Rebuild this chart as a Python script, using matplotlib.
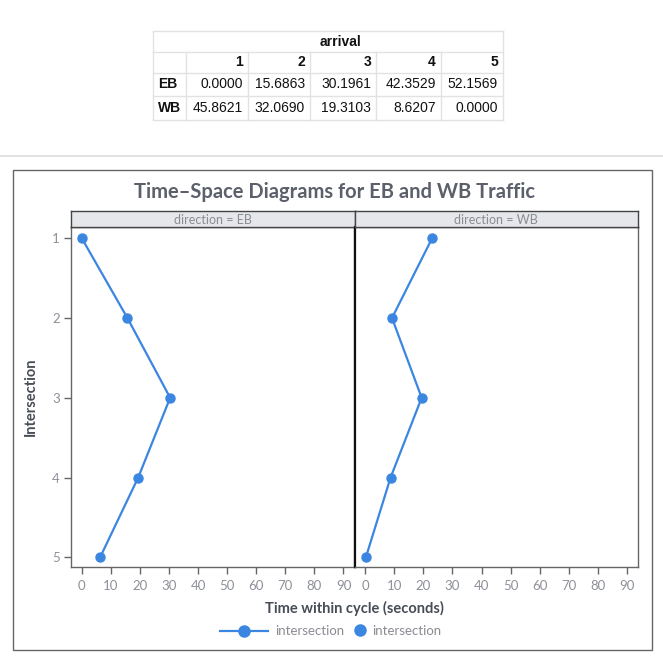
import matplotlib
matplotlib.use("Agg")
import matplotlib.pyplot as plt
from matplotlib.lines import Line2D
from matplotlib.patches import Rectangle

# table data (arrival times)
col_labels = ['1', '2', '3', '4', '5']
row_labels = ['EB', 'WB']
eb_arrival = [0.0000, 15.6863, 30.1961, 42.3529, 52.1569]
wb_arrival = [45.8621, 32.0690, 19.3103, 8.6207, 0.0000]

# time-space diagram data
intersections = [1, 2, 3, 4, 5]
eb_time = [0.0, 15.7, 30.4, 19.4, 6.3]
wb_time = [23.0, 9.2, 19.4, 8.7, 0.2]
directions = ['EB', 'WB']
x_ticks = [0, 10, 20, 30, 40, 50, 60, 70, 80, 90]
legend_labels = ['intersection', 'intersection']

W, H = 663, 664
fig = plt.figure(figsize=(W / 100, H / 100), dpi=100)


def fx(x):
    return x / W


def fy(y):
    return 1 - y / H


def hline(x0, x1, y, color, lw=1.0):
    fig.add_artist(Line2D([fx(x0), fx(x1)], [fy(y), fy(y)], color=color, lw=lw,
                          transform=fig.transFigure))


def vline(x, y0, y1, color, lw=1.0):
    fig.add_artist(Line2D([fx(x), fx(x)], [fy(y0), fy(y1)], color=color, lw=lw,
                          transform=fig.transFigure))


# ---- the pandas-like table on top ----
col_edges = [153, 186, 248, 310, 376, 441, 503]
row_edges = [31, 52, 73, 96, 120]
grid_c = '#e2e2e2'
for y in row_edges:
    hline(col_edges[0], col_edges[-1], y, grid_c)
for i, x in enumerate(col_edges):
    y0 = row_edges[0] if i in (0, len(col_edges) - 1) else row_edges[1]
    vline(x, y0, row_edges[-1], grid_c)

tfont = dict(family='Liberation Sans', fontsize=10, color='#111111')
fig.text(fx((col_edges[1] + col_edges[-1]) / 2 - 4), fy(41.5), 'arrival', ha='center', va='center',
         fontweight='bold', **tfont)
for i, c in enumerate(col_labels):
    fig.text(fx(col_edges[i + 2] - 5), fy(62.5), c, ha='right', va='center', fontweight='bold', **tfont)
for r, (lab, vals) in enumerate(zip(row_labels, [eb_arrival, wb_arrival])):
    yc = (row_edges[r + 2] + row_edges[r + 3]) / 2
    fig.text(fx(col_edges[0] + 5), fy(yc), lab, ha='left', va='center', fontweight='bold', **tfont)
    for i, v in enumerate(vals):
        fig.text(fx(col_edges[i + 2] - 5), fy(yc), f'{v:.4f}', ha='right', va='center', **tfont)

# separator and output frame
hline(0, W, 156, '#dcdcdc', lw=1.2)
fig.add_artist(Rectangle((fx(13), fy(650)), fx(652) - fx(13), fy(170) - fy(650), fill=False,
                         edgecolor='#666666', lw=1.0, transform=fig.transFigure))

# ---- faceted time-space diagram ----
blue = '#3b86e0'
tick_c = '#8e9199'
txt_c = '#474c57'
cfont = 'Lato'

panels = [(71, 354.5), (354.5, 638)]
top, bottom = 227, 567
times = [eb_time, wb_time]
for k, (x0, x1) in enumerate(panels):
    ax = fig.add_axes([fx(x0), fy(bottom), fx(x1) - fx(x0), fy(top) - fy(bottom)])
    ax.plot(times[k], intersections, color=blue, lw=1.6, marker='o', markersize=6.5)
    ax.set_xlim(-3.7, 93.8)
    ax.set_ylim(5.12, 0.86)
    ax.set_xticks(x_ticks)
    ax.set_xticklabels([str(t) for t in x_ticks], fontfamily=cfont, fontsize=9.5, color=tick_c)
    ax.tick_params(axis='x', length=5, width=1, color='#666666', pad=4)
    if k == 0:
        ax.set_yticks(intersections)
        ax.set_yticklabels([str(i) for i in intersections], fontfamily=cfont, fontsize=9.5, color=tick_c)
        ax.tick_params(axis='y', length=5, width=1, color='#666666', pad=3)
        ax.set_ylabel('Intersection', fontfamily=cfont, fontsize=10.5, fontweight='bold', color=txt_c,
                      labelpad=10)
    else:
        ax.set_yticks([])
    for side in ['left', 'right', 'top', 'bottom']:
        ax.spines[side].set_color('#666666')
        ax.spines[side].set_linewidth(1.0)
    ax.spines['top'].set_color('#333333')
    if k == 0:
        ax.spines['right'].set_color('#111111')
        ax.spines['right'].set_linewidth(1.6)
    else:
        ax.spines['left'].set_color('#111111')
        ax.spines['left'].set_linewidth(1.6)

    # facet strip
    sx = fig.add_axes([fx(x0), fy(top), fx(x1) - fx(x0), fy(211) - fy(top)])
    sx.set_facecolor('#e6e7eb')
    sx.set_xticks([])
    sx.set_yticks([])
    for side in sx.spines:
        sx.spines[side].set_color('#444444')
        sx.spines[side].set_linewidth(1.0)
    sx.text(0.5, 0.45, f'direction = {directions[k]}', transform=sx.transAxes, ha='center', va='center',
            fontfamily=cfont, fontsize=9, color='#8a8c93')

fig.text(fx(334), fy(192), 'Time\u2013Space Diagrams for EB and WB Traffic', ha='center', va='center',
         fontfamily=cfont, fontsize=14.5, fontweight='bold', color='#5b606b')
fig.text(fx(354), fy(608), 'Time within cycle (seconds)', ha='center', va='center',
         fontfamily=cfont, fontsize=10.5, fontweight='bold', color=txt_c)

# legend drawn by hand to match the spacing
ly = fy(631)
fig.add_artist(Line2D([fx(220), fx(268)], [ly, ly], color=blue, lw=1.6, transform=fig.transFigure))
fig.add_artist(Line2D([fx(244)], [ly], color=blue, marker='o', markersize=8, lw=0,
                      transform=fig.transFigure))
fig.text(fx(275), ly, legend_labels[0], ha='left', va='center', fontfamily=cfont, fontsize=9.5,
         color='#8a8c93')
fig.add_artist(Line2D([fx(360)], [ly + 0.002], color=blue, marker='o', markersize=8, lw=0,
                      transform=fig.transFigure))
fig.text(fx(372), ly, legend_labels[1], ha='left', va='center', fontfamily=cfont, fontsize=9.5,
         color='#8a8c93')

fig.savefig('out.png', dpi=100)
